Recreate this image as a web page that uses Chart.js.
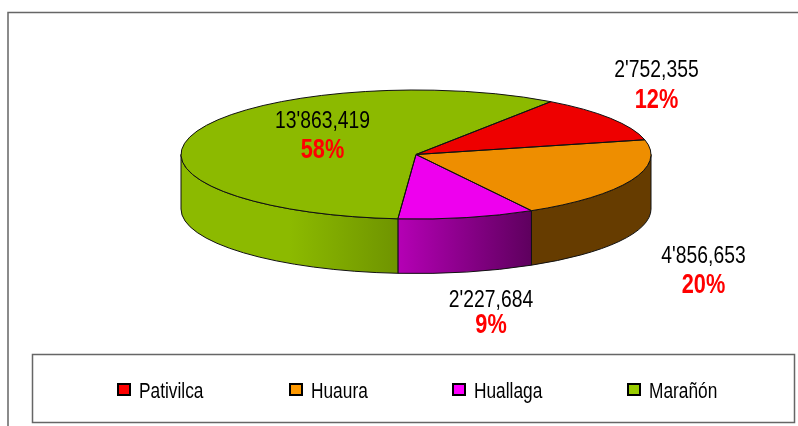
<!doctype html>
<html lang="en">

<head>
    <meta charset="utf-8">
    <title>Pie 3D</title>
    <script src="https://cdn.jsdelivr.net/npm/chart.js"></script>
    <style>
        html, body { margin: 0; padding: 0; background: #fff; overflow: hidden; }
        #pie { display: block; }
    </style>
</head>

<body>
    <canvas id="pie" width="798" height="426"></canvas>

    <script>
        const categories = ['Pativilca', 'Huaura', 'Huallaga', 'Marañón'];
        const values = [2752355, 4856653, 2227684, 13863419];
        const topColors = ['#ee0000', '#ee8e00', '#ee00ee', '#8cba00'];
        const legendColors = ['#ff0000', '#ff9900', '#ff00ff', '#99cc00'];
        // left and right colour of each slice's side wall
        const wallColors = [['#7a0000', '#7a0000'], ['#663c00', '#663c00'], ['#b500b5', '#5e005e'], ['#6f9400', '#8cba00']];
        // baseline centre of each value label, and how far below it the percent sits
        const labelSpots = [[656.5, 77], [703.5, 263], [491, 307], [322.5, 128]];
        const percentDrops = [30.5, 30, 26, 29.5];
        const legendX = [118, 290, 453, 628];

        const FONT = '"Liberation Sans", Arial, sans-serif';
        const NARROW = 0.805; // no Arial Narrow here, so the text is squeezed sideways
        const total = values.reduce((a, b) => a + b, 0);

        // ellipse of the pie top on the page
        const cx = 416, cy = 154.5, rx = 235, ry = 64.5, depth = 54.5;

        function formatValue(v) {
            const s = String(v);
            return s.slice(0, -6) + "'" + s.slice(-6, -3) + ',' + s.slice(-3);
        }

        function narrowText(ctx, text, x, y) {
            ctx.save();
            ctx.translate(x, y);
            ctx.scale(NARROW, 1);
            ctx.fillText(text, 0, 0);
            ctx.restore();
        }

        const pie3d = {
            id: 'pie3d',
            beforeDraw(chart) {
                const ctx = chart.ctx;
                ctx.save();
                ctx.fillStyle = '#fff';
                ctx.fillRect(0, 0, chart.width, chart.height);
                ctx.strokeStyle = '#666';
                ctx.lineWidth = 1.5;
                ctx.beginPath();
                ctx.moveTo(8, 426);
                ctx.lineTo(8, 12.5);
                ctx.lineTo(798, 12.5);
                ctx.stroke();
                ctx.strokeRect(32.5, 354.5, 762, 68);
                ctx.restore();
            },
            beforeDatasetsDraw(chart) {
                const ctx = chart.ctx;
                const arcs = chart.getDatasetMeta(0).data;
                ctx.save();
                ctx.lineWidth = 1;
                ctx.strokeStyle = '#111';
                arcs.forEach((arc, i) => {
                    const lo = Math.max(arc.startAngle, 0);
                    const hi = Math.min(arc.endAngle, Math.PI);
                    if (hi <= lo) return;
                    const x0 = cx + rx * Math.cos(hi);
                    const x1 = cx + rx * Math.cos(lo);
                    const grad = ctx.createLinearGradient(x0, 0, x1, 0);
                    if (i === 3) {
                        grad.addColorStop(0, wallColors[i][1]);
                        grad.addColorStop(0.5, wallColors[i][1]);
                        grad.addColorStop(1, wallColors[i][0]);
                    } else {
                        grad.addColorStop(0, wallColors[i][0]);
                        grad.addColorStop(1, wallColors[i][1]);
                    }
                    ctx.fillStyle = grad;
                    ctx.beginPath();
                    ctx.ellipse(cx, cy, rx, ry, 0, lo, hi);
                    ctx.ellipse(cx, cy + depth, rx, ry, 0, hi, lo, true);
                    ctx.closePath();
                    ctx.fill();
                    ctx.stroke();
                });
                ctx.restore();
                // squash the library's round pie into the top ellipse
                const a = arcs[0];
                ctx.save();
                ctx.translate(cx, cy);
                ctx.scale(rx / a.outerRadius, ry / a.outerRadius);
                ctx.translate(-a.x, -a.y);
            },
            afterDatasetsDraw(chart) {
                const ctx = chart.ctx;
                ctx.restore();
                const arcs = chart.getDatasetMeta(0).data;
                ctx.save();
                ctx.lineWidth = 1;
                ctx.strokeStyle = '#111';
                arcs.forEach(arc => {
                    ctx.beginPath();
                    ctx.moveTo(cx, cy);
                    ctx.ellipse(cx, cy, rx, ry, 0, arc.startAngle, arc.endAngle);
                    ctx.closePath();
                    ctx.stroke();
                });

                // value and percent labels
                ctx.textAlign = 'center';
                ctx.textBaseline = 'alphabetic';
                values.forEach((v, i) => {
                    const [x, y] = labelSpots[i];
                    ctx.fillStyle = '#000';
                    ctx.font = '24px ' + FONT;
                    narrowText(ctx, formatValue(v), x, y);
                    ctx.fillStyle = '#ff0000';
                    ctx.font = 'bold 27px ' + FONT;
                    narrowText(ctx, Math.round(v / total * 100) + '%', x, y + percentDrops[i]);
                });

                // legend
                ctx.textAlign = 'left';
                categories.forEach((name, i) => {
                    ctx.fillStyle = legendColors[i];
                    ctx.fillRect(legendX[i], 384, 12, 11);
                    ctx.strokeStyle = '#000';
                    ctx.lineWidth = 2;
                    ctx.strokeRect(legendX[i], 384, 12, 11);
                    ctx.fillStyle = '#000';
                    ctx.font = '21.5px ' + FONT;
                    narrowText(ctx, name, legendX[i] + 21, 398);
                });
                ctx.restore();
            }
        };

        new Chart(document.getElementById('pie'), {
            type: 'pie',
            data: {
                labels: categories,
                datasets: [{
                    data: values,
                    backgroundColor: topColors,
                    borderWidth: 0,
                    radius: 100,
                    rotation: 35
                }]
            },
            options: {
                responsive: false,
                animation: false,
                events: [],
                plugins: {
                    tooltip: { enabled: false },
                    legend: { display: false }
                }
            },
            plugins: [pie3d]
        });
    </script>
</body>

</html>
